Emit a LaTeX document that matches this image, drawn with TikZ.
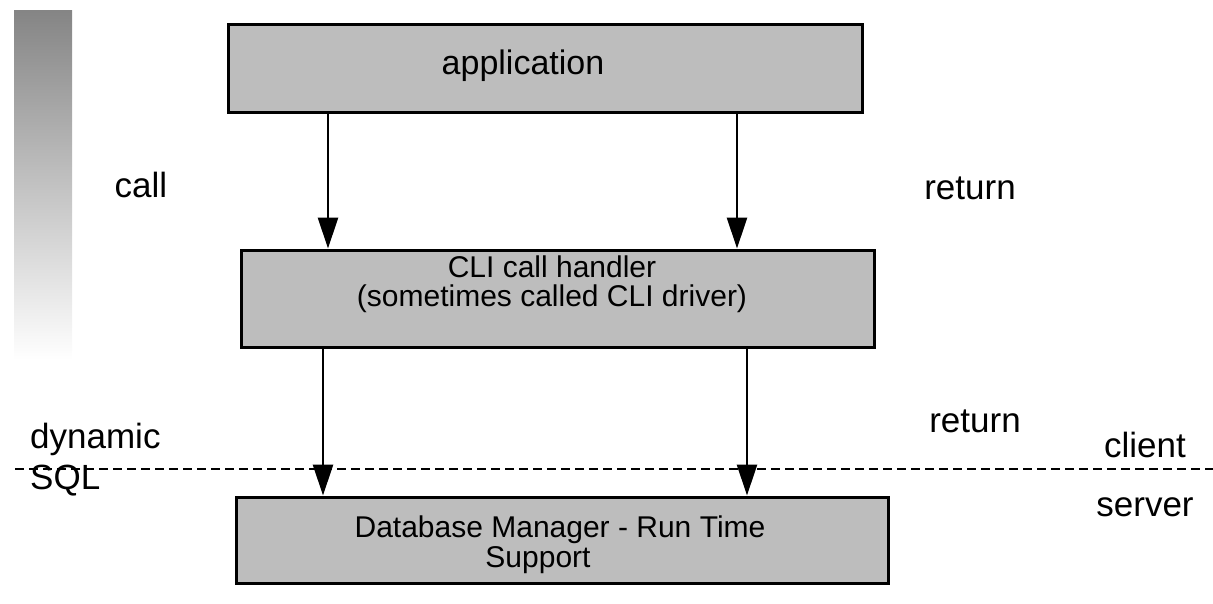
\documentclass[tikz,border=0pt]{standalone}
\usepackage{fontspec}
\setmainfont{Liberation Sans}
\usetikzlibrary{arrows.meta}

\definecolor{boxfill}{gray}{0.74}
\definecolor{stripgray}{gray}{0.52}

\tikzset{
  layerbox/.style={draw=black, line width=3pt, fill=boxfill, inner sep=0pt},
  boxtext/.style={inner sep=0pt, anchor=base, font=\fontsize{30}{31}\selectfont},
  flow/.style={draw=black, line width=2.8pt,
    -{Triangle[length=31pt, width=20pt]}},
  sidelabel/.style={inner sep=0pt, font=\fontsize{35}{37}\selectfont},
  boundary/.style={draw=black, line width=2.4pt, dash pattern=on 9pt off 5pt}
}

\begin{document}
\begin{tikzpicture}[x=1pt, y=-1pt]
  \useasboundingbox (0,0) rectangle (1213,603);

  % shaded strip at the left margin
  \shade[top color=stripgray, bottom color=white] (14,10) rectangle (72,360);

  % the three layers
  \node[layerbox, minimum width=634pt, minimum height=88pt] (app) at (545,68) {};
  \node[layerbox, minimum width=633pt, minimum height=97pt] (cli) at (557.5,298.5) {};
  \node[layerbox, minimum width=652pt, minimum height=86pt] (db) at (562,540) {};

  % texts of the layers
  \node[boxtext, font=\fontsize{34}{35}\selectfont] (appText) at (523,74) {application};
  \node[boxtext] (cliTextA) at (552,277) {CLI call handler};
  \node[boxtext] (cliTextB) at (552,306) {(sometimes called CLI driver)};
  \node[boxtext] (dbTextA) at (560,537) {Database Manager - Run Time};
  \node[boxtext] (dbTextB) at (538,567) {Support};

  % columns of the connectors
  \coordinate (colA) at (328,0);
  \coordinate (colB) at (737,0);
  \coordinate (colC) at (323,0);
  \coordinate (colD) at (747,0);

  \draw[flow] (app.south -| colA) -- (cli.north -| colA);
  \draw[flow] (app.south -| colB) -- (cli.north -| colB);

  % client / server boundary
  \coordinate (lineL) at (15,469);
  \coordinate (lineR) at (1213,469);
  \draw[boundary] (lineL) -- (lineR);

  \draw[flow] (cli.south -| colC) -- (db.north -| colC);
  \draw[flow] (cli.south -| colD) -- (db.north -| colD);

  % labels
  \node[sidelabel, anchor=base] (callLbl) at (141,197) {call};
  \node[sidelabel, anchor=base] (retA) at (970,199) {return};
  \node[sidelabel, anchor=base] (retB) at (975,432) {return};
  \node[sidelabel, anchor=base west] (dynLbl) at (30,448) {dynamic};
  \node[sidelabel, anchor=base west] (sqlLbl) at (30,489) {SQL};
  \node[sidelabel, anchor=base] (clientLbl) at (1145,457) {client};
  \node[sidelabel, anchor=base] (serverLbl) at (1145,516) {server};
\end{tikzpicture}
\end{document}
